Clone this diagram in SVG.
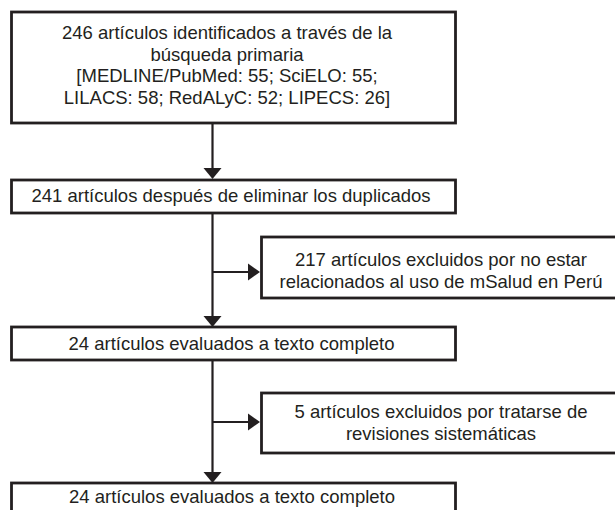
<svg xmlns="http://www.w3.org/2000/svg" width="615" height="510" viewBox="0 0 615 510">
<defs>
<style>
.box{fill:#ffffff;stroke:#231f20;stroke-width:2.8}
.ln{fill:none;stroke:#231f20;stroke-width:2.2}
.hd{fill:#231f20;stroke:none}
text{font-family:"Liberation Sans",Arial,sans-serif;font-size:18.5px;fill:#231f20;text-anchor:middle}
</style>
</defs>
<rect width="615" height="510" fill="#ffffff"/>
<g id="connectors">
<line class="ln" x1="212.5" y1="123" x2="212.5" y2="170"/>
<polygon class="hd" points="203.5,168 221.5,168 212.5,179"/>
<line class="ln" x1="212.5" y1="213" x2="212.5" y2="318"/>
<polygon class="hd" points="203.5,316 221.5,316 212.5,327"/>
<line class="ln" x1="212.5" y1="272" x2="250" y2="272"/>
<polygon class="hd" points="248,263.5 248,280.5 260,272"/>
<line class="ln" x1="212.5" y1="360" x2="212.5" y2="474"/>
<polygon class="hd" points="203.5,472 221.5,472 212.5,483"/>
<line class="ln" x1="212.5" y1="422" x2="250" y2="422"/>
<polygon class="hd" points="248,413.5 248,430.5 260,422"/>
</g>
<g id="n1">
<rect class="box" x="11.5" y="12" width="444" height="111"/>
<text x="227" y="39">246 artículos identificados a través de la</text>
<text x="227" y="61">búsqueda primaria</text>
<text x="227" y="82">[MEDLINE/PubMed: 55; SciELO: 55;</text>
<text x="227" y="104">LILACS: 58; RedALyC: 52; LIPECS: 26]</text>
</g>
<g id="n2">
<rect class="box" x="11.5" y="180" width="444" height="33"/>
<text x="231" y="202">241 artículos después de eliminar los duplicados</text>
</g>
<g id="n3">
<rect class="box" x="261.5" y="237" width="370" height="61"/>
<text x="441" y="266">217 artículos excluidos por no estar</text>
<text x="441" y="288">relacionados al uso de mSalud en Perú</text>
</g>
<g id="n4">
<rect class="box" x="11.5" y="327" width="444" height="33"/>
<text x="231.5" y="350">24 artículos evaluados a texto completo</text>
</g>
<g id="n5">
<rect class="box" x="261.5" y="393" width="370" height="60"/>
<text x="441" y="418">5 artículos excluidos por tratarse de</text>
<text x="441" y="440">revisiones sistemáticas</text>
</g>
<g id="n6">
<rect class="box" x="11.5" y="483" width="444" height="40"/>
<text x="232" y="503">24 artículos evaluados a texto completo</text>
</g>
</svg>
